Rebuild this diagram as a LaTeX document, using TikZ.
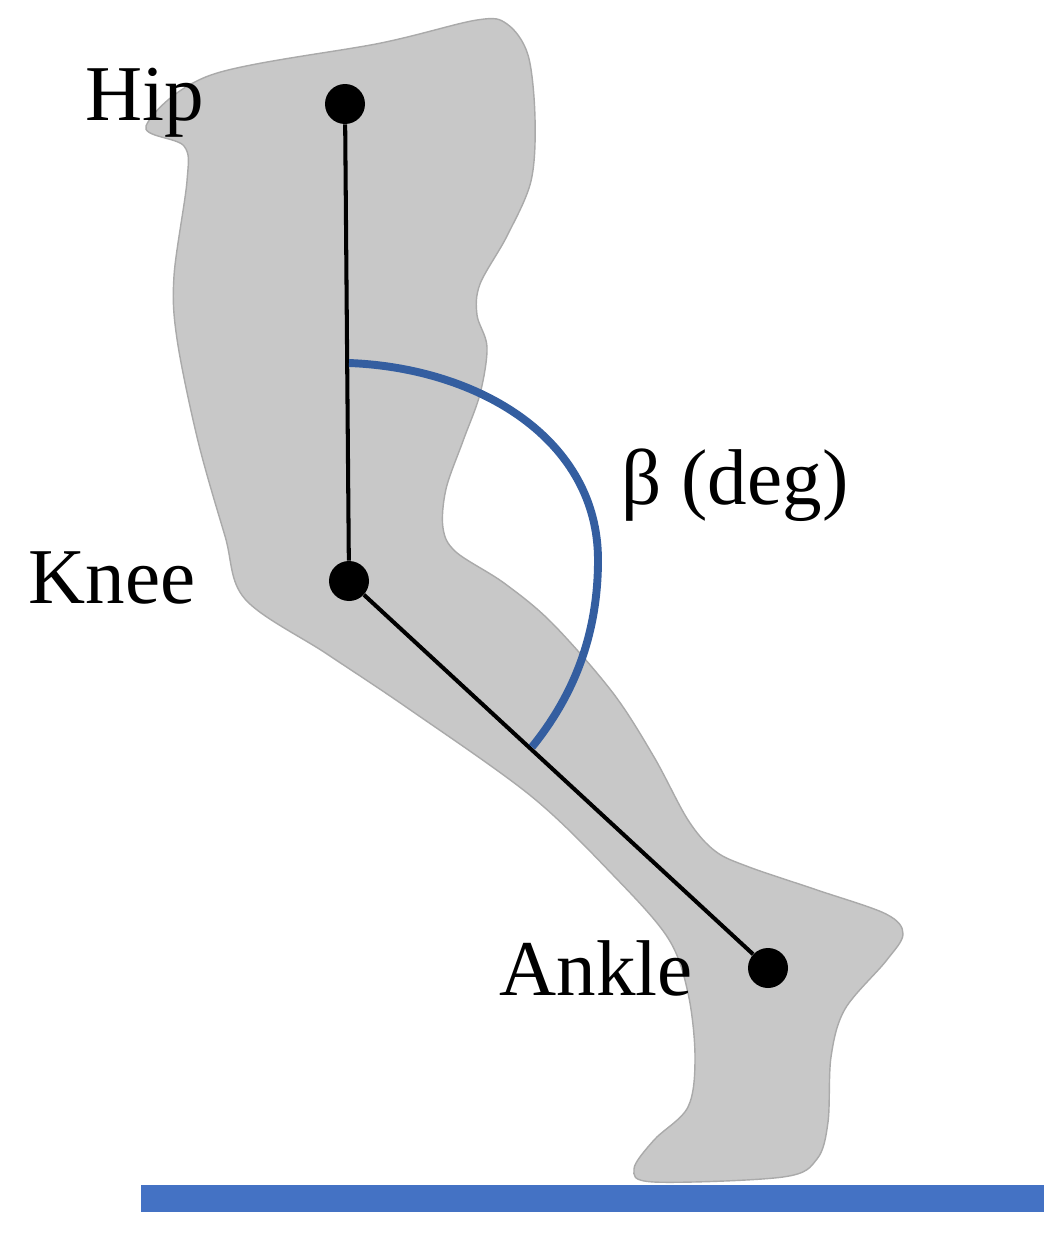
\documentclass[tikz,border=0pt]{standalone}
\usepackage{fontspec}
\setmainfont{Liberation Serif}
\definecolor{leg}{RGB}{200,200,200}
\definecolor{legline}{RGB}{170,170,170}
\definecolor{arcblue}{RGB}{52,94,160}
\definecolor{barblue}{RGB}{68,114,196}
\begin{document}
\begin{tikzpicture}[x=0.02cm,y=-0.02cm,
  joint/.style={circle,fill=black,inner sep=0pt,minimum size=0.8cm},
  lbl/.style={font=\fontsize{45}{50}\selectfont,inner sep=0pt},
  seg/.style={line width=2.3pt}]
\useasboundingbox (0,0) rectangle (1063,1240);
\fill[white] (0,0) rectangle (1063,1240);
\draw[fill=leg,draw=legline,line width=0.8pt] plot[smooth cycle,tension=0.55] coordinates{
(146,126)(211,75)(381,43)(477,20)(507,24)(528,55)(535,118)(531,181)(507,236)(480,284)
(477,315)(487,347)(480,394)(463,441)(446,489)(443,528)(456,552)(504,583)(552,623)
(613,693)(654,757)(688,820)(715,851)(749,867)(817,890)(886,914)(903,934)(886,961)
(845,1009)(831,1057)(828,1122)(817,1159)(783,1177)(654,1182)(634,1169)(654,1140)
(688,1107)(695,1057)(688,993)(668,938)(613,875)(531,796)(409,709)(327,654)(245,599)
(225,536)(198,441)(177,339)(174,276)(187,181)(184,146)};
\fill[barblue] (141,1185) rectangle (1044,1212);
\node[joint] (hip) at (345,104) {};
\node[joint] (knee) at (349,581) {};
\node[joint] (ankle) at (768,968) {};
\draw[seg] (hip) -- (knee);
\draw[seg] (knee) -- (ankle);
\coordinate (a1) at (349,363);
\coordinate (a2) at (598,560);
\coordinate (a3) at (532,747);
\draw[arcblue,line width=4.5pt] (a1) .. controls (480,368) and (598,440) .. (a2) .. controls (598,640) and (570,700) .. (a3);
\node[lbl] (thip) at (145,103) {Hip};
\node[lbl] (tknee) at (112,578) {Knee};
\node[lbl] (tankle) at (596,968) {Ankle};
\node[lbl] (tbeta) at (735,485) {β (deg)};
\end{tikzpicture}
\end{document}
